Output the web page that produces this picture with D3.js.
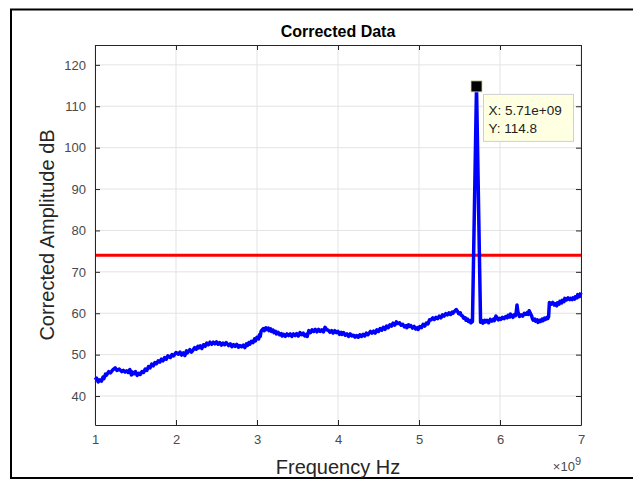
<!DOCTYPE html>
<html><head><meta charset="utf-8">
<script src="https://cdn.jsdelivr.net/npm/d3@7"></script>
<style>
html,body{margin:0;padding:0;background:#fff;}
svg{display:block;font-family:"Liberation Sans",Arial,sans-serif;}
</style></head>
<body>
<svg id="chart" width="633" height="481"></svg>
<script>
// ---- data (frequency in units of 1e9 Hz) ----
const freqGHz = [
1.00,1.02,1.04,1.06,1.08,1.10,1.11,1.13,1.14,1.17,
1.19,1.22,1.25,1.27,1.30,1.33,1.35,1.37,1.39,1.41,
1.43,1.45,1.46,1.48,1.50,1.52,1.54,1.56,1.58,1.60,
1.62,1.64,1.66,1.68,1.70,1.72,1.74,1.76,1.78,1.80,
1.82,1.84,1.86,1.88,1.90,1.93,1.95,1.97,2.00,2.03,
2.05,2.07,2.09,2.11,2.13,2.14,2.17,2.19,2.21,2.23,
2.25,2.27,2.28,2.30,2.32,2.34,2.36,2.38,2.40,2.42,
2.44,2.46,2.48,2.50,2.52,2.54,2.56,2.58,2.60,2.62,
2.65,2.67,2.69,2.71,2.73,2.75,2.77,2.79,2.81,2.83,
2.85,2.87,2.88,2.90,2.91,2.93,2.95,2.97,2.98,3.00,
3.02,3.03,3.04,3.05,3.06,3.08,3.09,3.11,3.12,3.14,
3.15,3.17,3.18,3.20,3.21,3.23,3.24,3.26,3.28,3.30,
3.31,3.33,3.35,3.37,3.39,3.41,3.43,3.45,3.47,3.49,
3.51,3.53,3.55,3.57,3.59,3.61,3.62,3.64,3.66,3.68,
3.70,3.72,3.74,3.76,3.78,3.80,3.82,3.84,3.86,3.88,
3.90,3.92,3.94,3.96,3.98,4.00,4.02,4.04,4.05,4.07,
4.09,4.11,4.13,4.15,4.17,4.19,4.21,4.23,4.25,4.27,
4.29,4.31,4.33,4.35,4.37,4.40,4.42,4.44,4.46,4.48,
4.50,4.52,4.54,4.56,4.58,4.60,4.62,4.64,4.66,4.68,
4.70,4.72,4.74,4.76,4.78,4.80,4.82,4.84,4.85,4.87,
4.88,4.90,4.92,4.94,4.96,4.98,4.99,5.01,5.03,5.05,
5.07,5.09,5.11,5.13,5.15,5.17,5.19,5.21,5.23,5.25,
5.27,5.29,5.31,5.33,5.35,5.37,5.39,5.41,5.42,5.44,
5.46,5.48,5.49,5.51,5.52,5.54,5.55,5.57,5.58,5.60,
5.61,5.63,5.64,5.66,5.71,5.76,5.78,5.79,5.81,5.82,
5.84,5.86,5.88,5.90,5.92,5.93,5.95,5.96,5.98,5.99,
6.01,6.03,6.05,6.07,6.09,6.10,6.12,6.13,6.15,6.16,
6.18,6.19,6.20,6.21,6.22,6.23,6.24,6.26,6.28,6.30,
6.32,6.34,6.35,6.36,6.37,6.39,6.40,6.41,6.43,6.44,
6.46,6.47,6.49,6.50,6.52,6.53,6.55,6.56,6.58,6.59,
6.60,6.61,6.63,6.65,6.67,6.68,6.70,6.71,6.73,6.74,
6.76,6.77,6.79,6.80,6.82,6.84,6.86,6.87,6.89,6.90,
6.92,6.93,6.95,6.96,6.98,7.00];
const amplitudeDb = [
43.9,44.3,43.4,43.9,43.6,44.6,44.2,45.3,45.0,45.9,
45.6,46.3,46.8,46.2,46.5,45.9,46.2,45.8,46.1,45.7,
46.4,45.1,45.8,45.4,45.9,45.0,45.5,45.2,45.9,45.7,
46.5,46.2,47.1,46.8,47.7,47.3,48.1,47.8,48.5,48.2,
48.9,48.5,49.3,48.9,49.7,49.3,50.0,49.7,50.5,50.1,
50.6,49.9,50.4,49.8,50.9,50.4,51.2,50.6,51.1,51.7,
51.3,52.0,51.6,52.1,51.5,52.4,52.0,52.8,52.4,53.0,
52.5,53.0,52.6,53.1,52.5,52.9,52.3,52.8,52.4,52.9,
52.2,52.6,51.9,52.4,52.0,52.5,51.8,52.2,51.9,52.3,
51.7,52.6,52.2,52.9,52.5,53.2,52.9,53.8,53.3,54.2,
53.8,54.8,54.4,55.6,55.9,56.3,55.8,56.5,56.1,56.4,
55.8,56.2,55.6,55.9,55.3,55.6,55.0,55.4,54.8,55.1,
54.5,54.9,54.4,55.0,54.6,55.0,54.4,55.0,54.6,55.1,
54.5,55.3,54.8,55.2,54.5,54.9,54.4,55.8,55.3,56.0,
55.6,56.1,55.5,56.1,55.6,56.0,55.5,56.6,56.0,55.9,
55.4,55.8,55.2,55.8,55.3,55.6,54.9,55.4,54.9,55.3,
54.7,55.0,54.4,55.0,54.5,54.7,54.2,54.6,54.2,54.8,
54.4,54.9,54.5,55.2,54.8,55.6,55.2,55.7,55.2,56.0,
55.6,56.3,55.9,56.6,56.1,56.9,56.5,57.2,56.9,57.6,
57.1,57.9,57.5,57.7,57.1,57.3,56.7,57.0,56.5,57.2,
56.8,57.0,56.4,56.8,56.2,56.5,56.1,56.8,56.5,57.3,
56.9,57.6,57.4,58.4,58.4,58.9,58.5,59.0,58.7,59.3,
58.9,59.6,59.3,59.9,59.6,60.1,59.7,60.3,60.0,60.5,
60.9,60.3,59.9,60.1,59.5,59.3,58.8,58.9,58.3,58.6,
58.0,58.2,57.7,58.0,114.8,57.8,58.2,57.6,58.3,57.9,
58.3,57.7,58.5,58.1,58.6,58.2,59.3,58.9,58.4,58.8,
58.5,59.0,58.7,59.2,58.9,59.5,59.1,59.8,59.3,59.0,
59.7,59.4,60.2,62.0,60.4,59.8,59.2,59.6,59.3,60.0,
59.7,60.2,59.7,60.6,60.2,59.4,58.7,58.3,58.6,58.1,
58.4,57.8,58.3,58.0,58.6,58.2,58.8,58.5,59.0,58.7,
59.2,62.6,62.2,62.6,62.0,62.3,61.8,62.5,62.2,62.9,
62.5,63.1,62.8,63.6,63.2,63.7,63.3,63.6,63.3,63.7,
63.4,64.0,63.7,64.5,64.0,65.0];
const thresholdDb = [74];
const xTicks = [1,2,3,4,5,6,7];
const yTicks = [40,50,60,70,80,90,100,110,120];
const dataTip = {x: 5.71, y: 114.8, labels: ["X: 5.71e+09", "Y: 114.8"]};
const titleText = "Corrected Data";
const xLabel = "Frequency Hz";
const yLabel = "Corrected Amplitude dB";

// ---- layout ----
const svg = d3.select("#chart");
const L = 95, R = 581, T = 45, B = 425;
const x = d3.scaleLinear().domain([1,7]).range([L,R]);
const y = d3.scaleLinear().domain([33,124.8]).range([B,T]);
const axisCol = "#262626", tickCol = "#4a4a4a";

// outer frame
svg.append("rect").attr("x",11).attr("y",9.5).attr("width",640).attr("height",468.5)
  .attr("fill","none").attr("stroke","#000").attr("stroke-width",2);

// grid
const g = svg.append("g");
g.selectAll(".gx").data(xTicks).join("line")
  .attr("x1",d=>x(d)).attr("x2",d=>x(d)).attr("y1",T).attr("y2",B)
  .attr("stroke","#e3e3e3").attr("stroke-width",1);
g.selectAll(".gy").data(yTicks).join("line")
  .attr("x1",L).attr("x2",R).attr("y1",d=>y(d)).attr("y2",d=>y(d))
  .attr("stroke","#e3e3e3").attr("stroke-width",1);

// threshold line
svg.selectAll(".thr").data(thresholdDb).join("line")
  .attr("x1",L).attr("x2",R).attr("y1",d=>y(d)).attr("y2",d=>y(d))
  .attr("stroke","#ff0000").attr("stroke-width",3);

// data line
const pts = freqGHz.map((f,i)=>[f, amplitudeDb[i]]);
svg.append("path").datum(pts)
  .attr("d", d3.line().x(d=>x(d[0])).y(d=>y(d[1])))
  .attr("fill","none").attr("stroke","#0000ff").attr("stroke-width",3.5)
  .attr("stroke-linejoin","round");

// axes (MATLAB style: box with inward ticks)
const xAxB = d3.axisBottom(x).tickValues(xTicks).tickSizeInner(-5).tickSizeOuter(0).tickPadding(10).tickFormat(d3.format("d"));
const xAxT = d3.axisTop(x).tickValues(xTicks).tickSizeInner(-5).tickSizeOuter(0).tickFormat("");
const yAxL = d3.axisLeft(y).tickValues(yTicks).tickSizeInner(-5).tickSizeOuter(0).tickPadding(9).tickFormat(d3.format("d"));
const yAxR = d3.axisRight(y).tickValues(yTicks).tickSizeInner(-5).tickSizeOuter(0).tickFormat("");

function style(sel){
  sel.select(".domain").attr("stroke",axisCol).attr("stroke-width",1);
  sel.selectAll(".tick line").attr("stroke",axisCol);
  sel.selectAll(".tick text").attr("fill",tickCol).attr("font-size",13)
    .attr("font-family","'Liberation Sans',Arial,sans-serif");
}
svg.append("g").attr("transform",`translate(0,${B})`).call(xAxB).call(style);
svg.append("g").attr("transform",`translate(0,${T})`).call(xAxT).call(style);
svg.append("g").attr("transform",`translate(${L},0)`).call(yAxL).call(style);
svg.append("g").attr("transform",`translate(${R},0)`).call(yAxR).call(style);

// data tip
svg.append("rect").attr("x",x(dataTip.x)-5.5).attr("y",y(dataTip.y)-5.5)
  .attr("width",11).attr("height",11).attr("fill","#000").attr("stroke","#d8d8b0").attr("stroke-width",0.8);
const tip = svg.append("g");
tip.append("rect").attr("x",x(dataTip.x)+7).attr("y",y(dataTip.y)+8).attr("width",90).attr("height",47)
  .attr("fill","#ffffe1").attr("stroke","#cfcfcf").attr("stroke-width",1);
tip.selectAll("text").data(dataTip.labels).join("text")
  .attr("x",x(dataTip.x)+12).attr("y",(d,i)=>y(dataTip.y)+29+i*18)
  .attr("font-size",13.5).attr("fill","#222").text(d=>d);

// title & labels
svg.append("text").attr("x",(L+R)/2).attr("y",37).attr("text-anchor","middle")
  .attr("font-weight","bold").attr("font-size",16).attr("fill","#000").text(titleText);
svg.append("text").attr("x",(L+R)/2).attr("y",474).attr("text-anchor","middle")
  .attr("font-size",20).attr("fill","#262626").text(xLabel);
svg.append("text").attr("transform",`translate(54,${(T+B)/2}) rotate(-90)`).attr("text-anchor","middle")
  .attr("font-size",20).attr("fill","#262626").text(yLabel);
// exponent
const ex = svg.append("text").attr("x",R).attr("y",471).attr("text-anchor","end")
  .attr("font-size",13).attr("fill",tickCol);
ex.append("tspan").text("\u00d710");
ex.append("tspan").attr("dy",-6).attr("font-size",11).text("9");
</script>
</body></html>
